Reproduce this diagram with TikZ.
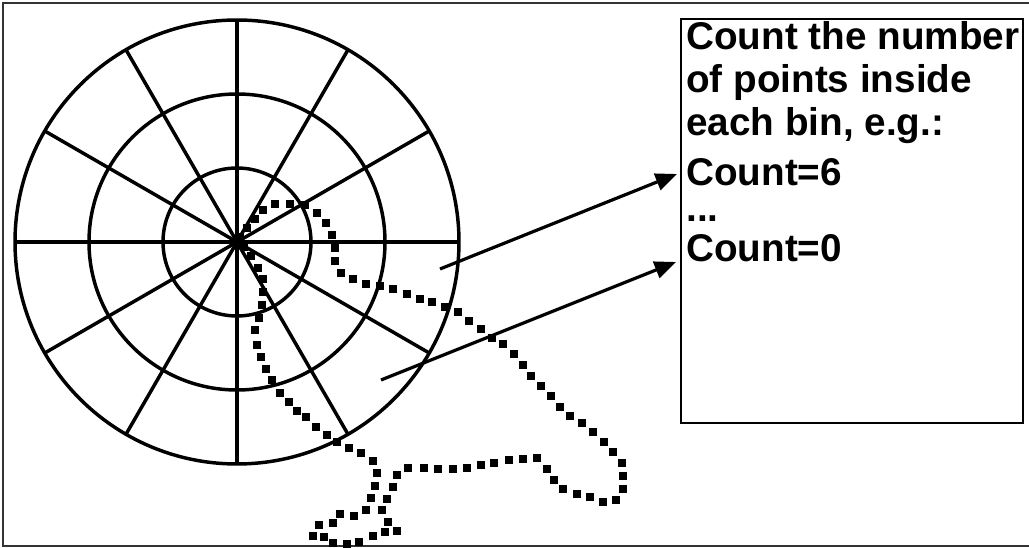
\documentclass[tikz,border=0pt]{standalone}
\usepackage{fontspec}
\setmainfont{Liberation Sans}
\usetikzlibrary{arrows.meta}
\begin{document}
\begin{tikzpicture}[x=0.75pt,y=-0.75pt,
  ring/.style={line width=2.6pt},
  framestyle/.style={line width=1.5pt,draw=black!80},
  boxstyle/.style={draw,line width=1.5pt,inner sep=0pt,anchor=north west,minimum width=256.5pt,minimum height=303pt},
  ptr/.style={line width=2.4pt,-{Triangle[length=16pt,width=13pt]}},
  lbl/.style={anchor=base west,inner sep=0pt,font=\fontsize{29pt}{31.8pt}\selectfont\bfseries}]
\useasboundingbox (0,0) rectangle (1029,548);
% outer frame
\draw[framestyle] (1035,3) -- (3,3) -- (3,546) -- (1035,546);
% polar grid
\coordinate (c) at (237,242);
\foreach \r in {74,148,222} \draw[ring] (c) circle[radius=\r];
\foreach \a in {0,30,...,150} \draw[ring] (c) ++(\a:222) -- ++(\a+180:444);
% dotted trajectory
\foreach \p in {
(240,237),(247,228),(255,219),(263,210),(275,204),(290,204),(305,205),(317,213),(326,223),(332,235),
(335,248),(335,261),(341,273),(353,279),(366,284),(380,286),(393,289),(407,294),(420,299),(432,302),
(445,307),(458,312),(469,321),(481,329),(492,338),(503,344),(514,354),(523,365),(531,376),(541,386),
(551,396),(560,407),(570,416),(582,423),(593,432),(604,442),(613,452),(622,463),(623,476),(623,489),
(616,500),(603,502),(590,497),(577,494),(563,489),(554,480),(547,469),(537,458),(523,459),(509,460),
(494,463),(481,465),(467,468),(453,469),(438,469),(424,468),(408,468),(397,475),(393,487),(387,499),
(382,510),(388,522),(397,531),(385,532),(373,536),(359,542),(347,544),(333,543),(324,537),(313,536),
(319,525),(333,523),(340,514),(354,516),(366,510),(371,498),(375,486),(377,473),(373,461),(361,453),
(349,448),(337,442),(327,435),(316,427),(306,417),(297,411),(289,402),(280,393),(272,380),(266,369),
(261,357),(257,345),(255,330),(259,318),(262,305),(263,292),(263,279),(258,268),(251,256),(244,247)}
  \fill \p ++(-4.25,-4.25) rectangle ++(8.5,8.5);
% text box
\node[boxstyle] (box) at (680,18) {};
\node[lbl] (l1) at (686,50) {Count the number};
\node[lbl] (l2) at (686,93) {of points inside};
\node[lbl] (l3) at (686,136) {each bin, e.g.:};
\node[lbl] (l4) at (686,186) {Count=6};
\node[lbl] (l5) at (686,222) {...};
\node[lbl] (l6) at (686,262) {Count=0};
% arrows
\coordinate (t1) at (440,269);
\coordinate (h1) at (677,174);
\coordinate (t2) at (381,380);
\coordinate (h2) at (676,262);
\draw[ptr] (t1) -- (h1);
\draw[ptr] (t2) -- (h2);
\end{tikzpicture}
\end{document}
